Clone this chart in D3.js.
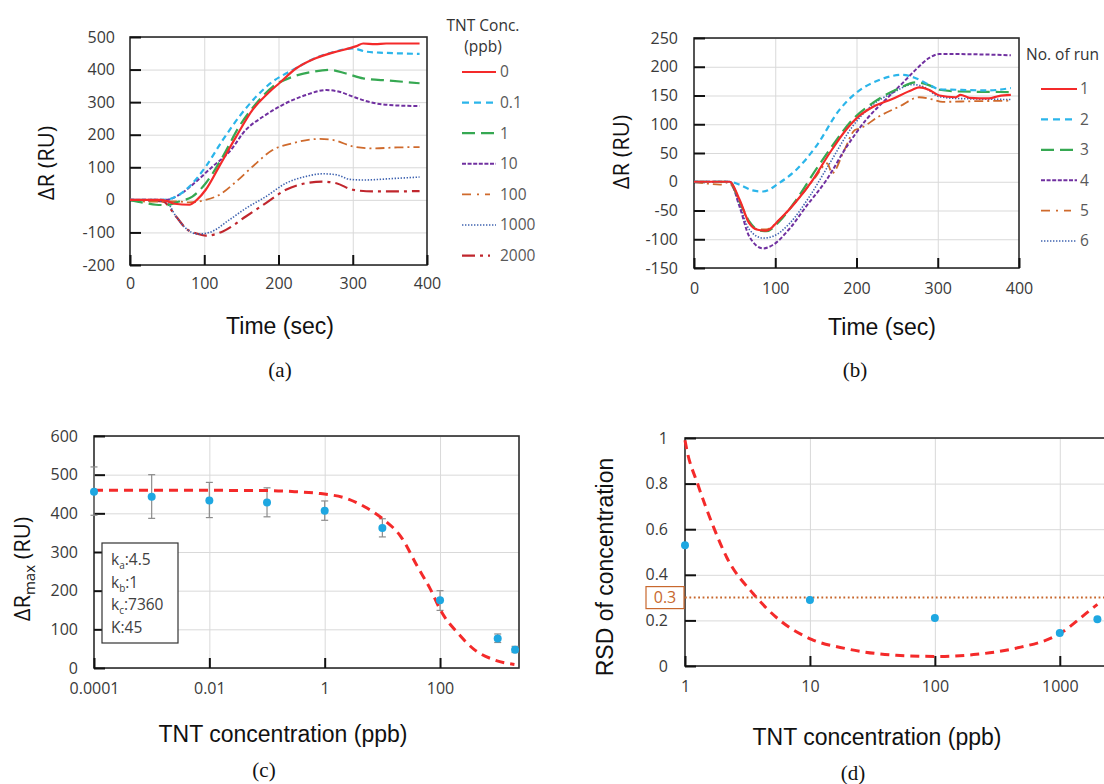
<!DOCTYPE html>
<html>
<head>
<meta charset="utf-8">
<script src="https://cdn.jsdelivr.net/npm/d3@7"></script>
<style>
  body { margin: 0; background: #fff; }
  svg { display: block; }
  .tick text { font-family: "Open Sans", sans-serif; font-size: 16px; fill: #3a3a3a; }
  .title { font-family: "Liberation Sans", Arial, sans-serif; font-size: 23px; fill: #111; }
  .ytitle { font-family: "Open Sans", sans-serif; font-size: 22px; fill: #111; }
  .plabel { font-family: "Liberation Serif", "Times New Roman", serif; font-size: 21px; fill: #111; }
  .leg { font-family: "Open Sans", sans-serif; font-size: 15.5px; fill: #595959; }
</style>
</head>
<body>
<main></main>
<script>
(function(){

  // PANEL (a) - TNT concentration series, [time, dR]
  const concLabels = ["0", "0.1", "1", "10", "100", "1000", "2000"];
  const conc0 = [[0,0],[40,0],[50,-4],[60,-12],[80,-15],[90,0],[102,31],[120,102],[143,194],[165,276],[188,332],[201,358],[224,404],[246,431],[273,452],[305,472],[314,480],[330,478],[345,480],[390,480]];
  const conc01 = [[0,0],[45,0],[62,10],[80,41],[102,102],[125,184],[147,255],[170,317],[192,363],[210,388],[224,405],[246,432],[273,453],[300,465],[318,455],[336,452],[360,450],[390,448]];
  const conc1 = [[0,0],[21,-10],[35,-15],[50,-16],[66,-5],[84,10],[102,51],[125,133],[147,225],[170,296],[192,347],[219,378],[246,393],[269,399],[291,388],[314,373],[350,366],[390,358]];
  const conc10 = [[0,0],[48,0],[66,15],[84,46],[111,102],[134,148],[156,215],[179,255],[201,286],[237,322],[264,337],[282,332],[300,317],[327,298],[358,290],[390,288]];
  const conc100 = [[0,0],[21,-5],[66,-5],[80,-8],[102,0],[120,15],[143,56],[165,102],[192,153],[219,174],[255,187],[273,184],[300,164],[327,158],[360,161],[390,162]];
  const conc1000 = [[0,0],[48,-5],[62,-51],[75,-87],[91,-105],[107,-100],[134,-61],[156,-26],[183,10],[210,51],[237,72],[260,80],[278,77],[296,63],[314,61],[358,66],[390,70]];
  const conc2000 = [[0,0],[44,-5],[62,-51],[75,-87],[92,-105],[102,-110],[125,-97],[156,-51],[183,-10],[210,31],[237,51],[260,56],[278,51],[300,31],[327,26],[360,26],[390,27]];
  const concSeries = [conc0, conc01, conc1, conc10, conc100, conc1000, conc2000];

  // PANEL (b) - repeated runs, [time, dR]
  const runLabels = ["1", "2", "3", "4", "5", "6"];
  const run1 = [[0,0],[44,0],[56,-31],[68,-72],[77,-83],[89,-85],[105,-66],[126,-34],[146,3],[167,50],[187,90],[203,114],[220,130],[244,144],[269,160],[277,164],[289,160],[302,150],[322,147],[328,151],[339,146],[363,145],[375,149],[390,151]];
  const run2 = [[0,0],[44,0],[56,-5],[72,-15],[85,-17],[105,-2],[126,21],[150,61],[179,125],[199,154],[228,177],[257,186],[273,180],[289,169],[302,161],[322,160],[363,159],[390,163]];
  const run3 = [[0,0],[44,0],[56,-34],[68,-69],[81,-85],[89,-86],[105,-69],[126,-31],[150,21],[171,64],[195,108],[220,137],[253,163],[273,173],[289,168],[302,160],[326,157],[390,156]];
  const run4 = [[0,0],[44,0],[56,-43],[68,-95],[85,-116],[97,-110],[118,-81],[138,-43],[163,3],[187,59],[212,108],[236,143],[257,172],[273,195],[289,215],[302,222],[322,222],[390,220]];
  const run5 = [[0,0],[15,-3],[32,-5],[42,-1],[56,-34],[68,-72],[81,-83],[89,-83],[105,-66],[126,-34],[150,9],[164,32],[170,15],[185,55],[198,90],[203,92],[228,114],[253,131],[277,147],[294,143],[306,139],[343,140],[390,141]];
  const run6 = [[0,0],[44,0],[56,-40],[68,-83],[85,-98],[97,-95],[118,-72],[142,-26],[167,32],[195,96],[220,134],[244,154],[269,169],[281,166],[302,148],[322,145],[390,143]];
  const runSeries = [run1, run2, run3, run4, run5, run6];

  // PANEL (c) - dR max vs concentration
  const cConc = [0.0001, 0.001, 0.01, 0.1, 1, 10, 100, 1000, 2000];
  const cMean = [456, 443, 433, 428, 407, 362, 175, 76, 47];
  const cLow = [395, 387, 389, 391, 382, 339, 149, 66, 40];
  const cHigh = [520, 500, 480, 466, 432, 386, 200, 88, 56];
  const cFit = [[0.0001,460],[0.1,459],[0.3,456],[0.85,451],[2.45,438],[5.5,413],[10.7,383],[20.9,340],[40.7,262],[69,202],[105,146],[204,90],[398,47],[871,21],[1950,9]];
  const cParams = [["k","a",":4.5"],["k","b",":1"],["k","c",":7360"],["K","",":45"]];

  // PANEL (d) - RSD vs concentration
  const dConc = [1, 10, 100, 1000, 2000];
  const dRsd = [0.53, 0.29, 0.21, 0.145, 0.205];
  const dFit = [[1,0.99],[1.03,0.953],[1.26,0.8],[1.69,0.61],[2.15,0.478],[3.52,0.317],[5.75,0.2],[10.3,0.117],[19.5,0.076],[49,0.047],[102,0.042],[204,0.05],[427,0.076],[1000,0.142],[1740,0.244],[2000,0.27]];
  const dLimit = 0.3;

  // line styles shared by (a) and (b)
  const styles = [
    {c: "#f42a2a", d: null, w: 2.2, ld: null},
    {c: "#2bb5ea", d: "6,4", w: 2.2, ld: "7,5"},
    {c: "#36a852", d: "13,6", w: 2.2, ld: "13,6"},
    {c: "#7030a0", d: "4,2", w: 2, ld: "4,1.6"},
    {c: "#cf6a2c", d: "9,4,2,4", w: 1.8, ld: "9,6,2,6"},
    {c: "#3f63b0", d: "1.4,1.6", w: 1.6, ld: "1.4,1.6"},
    {c: "#c0262d", d: "13,5,3,5", w: 2.2, ld: "13,5,3,5"}
  ];

  const svg = d3.select("main")
    .append("svg")
    .attr("width", 1104)
    .attr("height", 784);

  const intFmt = d => String(d);  // plain hyphen minus like the original

  // draws grid, box, ticks and tick labels for one panel
  function frame(x, y, xTicks, yTicks, xFmt, yFmt, xPad, yPad, gridX){
    const [x0, x1] = x.range(), [y0, y1] = y.range();
    const g = svg.append("g");
    g.append("g").attr("transform", `translate(${x0},0)`)
      .call(d3.axisLeft(y).tickValues(yTicks).tickSize(-(Math.min(x1, 1104) - x0)).tickFormat(""))
      .call(a => a.select(".domain").remove())
      .selectAll("line").attr("stroke", "#d9d9d9");
    g.append("g").attr("transform", `translate(0,${y0})`)
      .call(d3.axisBottom(x).tickValues(gridX).tickSize(-(y0 - y1)).tickFormat(""))
      .call(a => a.select(".domain").remove())
      .selectAll("line").attr("stroke", "#d9d9d9");
    g.append("rect")
      .attr("x", x0).attr("y", y1)
      .attr("width", x1 - x0).attr("height", y0 - y1)
      .attr("fill", "none").attr("stroke", "#2b2b2b").attr("stroke-width", 1.6);
    g.append("g").attr("transform", `translate(${x0},0)`)
      .call(d3.axisLeft(y).tickValues(yTicks).tickSize(-11).tickPadding(yPad).tickFormat(yFmt))
      .call(a => a.select(".domain").remove())
      .selectAll("line").attr("stroke", "#111").attr("stroke-width", 2);
    g.append("g").attr("transform", `translate(0,${y0})`)
      .call(d3.axisBottom(x).tickValues(xTicks).tickSize(-10).tickPadding(xPad).tickFormat(xFmt))
      .call(a => a.select(".domain").remove())
      .selectAll("line").attr("stroke", "#111").attr("stroke-width", 2);
    return g;
  }

  function drawLines(series, x, y){
    const line = d3.line().x(d => x(d[0])).y(d => y(d[1])).curve(d3.curveMonotoneX);
    // draw in reverse so the first series sits on top
    series.map((s, i) => [s, i]).reverse().forEach(([s, i]) => {
      svg.append("path")
        .attr("d", line(s))
        .attr("fill", "none")
        .attr("stroke", styles[i].c)
        .attr("stroke-width", styles[i].w)
        .attr("stroke-dasharray", styles[i].d);
    });
  }

  function legend(labels, lx0, lx1, tx, yStart, step){
    labels.forEach((l, i) => {
      const yy = yStart + i * step;
      svg.append("line")
        .attr("x1", lx0).attr("x2", styles[i].d && styles[i].d.split(",").length > 2 ? lx1 - 6 : lx1)
        .attr("y1", yy).attr("y2", yy)
        .attr("stroke", styles[i].c)
        .attr("stroke-width", styles[i].w)
        .attr("stroke-dasharray", styles[i].ld);
      svg.append("text").attr("class", "leg")
        .attr("x", tx).attr("y", yy).attr("dy", "0.35em")
        .text(l);
    });
  }

  function ytitle(txt, cx, cy){
    return svg.append("text").attr("class", "ytitle")
      .attr("transform", `translate(${cx},${cy}) rotate(-90)`)
      .attr("text-anchor", "middle").attr("dy", "0.35em")
      .text(txt);
  }

  function title(txt, cx, by, cls){
    svg.append("text").attr("class", cls || "title")
      .attr("x", cx).attr("y", by).attr("text-anchor", "middle")
      .text(txt);
  }

  // ---------- (a) ----------
  const xA = d3.scaleLinear().domain([0, 400]).range([130, 427]);
  const yA = d3.scaleLinear().domain([-200, 500]).range([265, 37]);
  frame(xA, yA, d3.range(0, 401, 100), d3.range(-200, 501, 100), intFmt, intFmt, 13, 15, [100, 200, 300]);
  drawLines(concSeries, xA, yA);
  svg.append("text").attr("class", "leg").attr("x", 483).attr("y", 31).attr("text-anchor", "middle").style("fill", "#333").text("TNT Conc.");
  svg.append("text").attr("class", "leg").attr("x", 483).attr("y", 52).attr("text-anchor", "middle").style("fill", "#333").text("(ppb)");
  legend(concLabels, 462, 496, 500, 72, 30.6);
  title("Time (sec)", 280, 334);
  title("(a)", 280, 377, "plabel");
  ytitle("ΔR (RU)", 46, 163);

  // ---------- (b) ----------
  const xB = d3.scaleLinear().domain([0, 400]).range([694, 1019]);
  const yB = d3.scaleLinear().domain([-150, 250]).range([268, 38]);
  frame(xB, yB, d3.range(0, 401, 100), d3.range(-150, 251, 50), intFmt, intFmt, 15, 16, [100, 200, 300]);
  drawLines(runSeries, xB, yB);
  svg.append("text").attr("class", "leg").attr("x", 1026).attr("y", 60).style("fill", "#333").text("No. of run");
  legend(runLabels, 1041, 1077, 1080, 89, 30.4);
  title("Time (sec)", 882, 335);
  title("(b)", 855, 377, "plabel");
  ytitle("ΔR (RU)", 621, 152);

  // ---------- (c) ----------
  const xC = d3.scaleLog().domain([0.0001, 2340]).range([94, 519]);
  const yC = d3.scaleLinear().domain([0, 600]).range([668, 436]);
  const logFmt = d => String(d);
  frame(xC, yC, [0.0001, 0.01, 1, 100], d3.range(0, 601, 100), logFmt, intFmt, 15, 16, [0.01, 1, 100]);
  const fitLine = (x, y) => d3.line().x(d => x(d[0])).y(d => y(d[1])).curve(d3.curveMonotoneX);
  // error bars
  cConc.forEach((c, i) => {
    const px = xC(c);
    svg.append("line").attr("x1", px).attr("x2", px).attr("y1", yC(cLow[i])).attr("y2", yC(cHigh[i])).attr("stroke", "#8c8c8c").attr("stroke-width", 1.2);
    [cLow[i], cHigh[i]].forEach(v => svg.append("line").attr("x1", px - 3.5).attr("x2", px + 3.5).attr("y1", yC(v)).attr("y2", yC(v)).attr("stroke", "#8c8c8c").attr("stroke-width", 1.2));
  });
  svg.append("path").attr("d", fitLine(xC, yC)(cFit)).attr("fill", "none")
    .attr("stroke", "#f42a2a").attr("stroke-width", 3).attr("stroke-dasharray", "9,6");
  svg.selectAll(".cpt").data(cConc).join("circle").attr("class", "cpt")
    .attr("cx", d => xC(d)).attr("cy", (d, i) => yC(cMean[i])).attr("r", 4).attr("fill", "#1ea7e1");
  svg.append("rect").attr("x", 102).attr("y", 543).attr("width", 76).attr("height", 100)
    .attr("fill", "#fff").attr("stroke", "#333").attr("stroke-width", 1.2);
  cParams.forEach((p, i) => {
    const t = svg.append("text").attr("class", "leg").style("fill", "#404040").style("font-size", "15.5px")
      .attr("x", 111).attr("y", 565 + i * 22.5);
    t.append("tspan").text(p[0]);
    if (p[1]) t.append("tspan").attr("font-size", 10).attr("dy", 4).text(p[1]);
    t.append("tspan").attr("dy", p[1] ? -4 : 0).text(p[2]);
  });
  title("TNT concentration (ppb)", 283, 742);
  title("(c)", 264, 777, "plabel");
  const yt = ytitle("", 22, 569);
  yt.append("tspan").text("ΔR");
  yt.append("tspan").attr("font-size", 15).attr("dy", 5).text("max");
  yt.append("tspan").attr("dy", -5).text(" (RU)");

  // ---------- (d) ----------
  const xD = d3.scaleLog().domain([1, Math.pow(10, 3.45)]).range([685, 1116]);
  const yD = d3.scaleLinear().domain([0, 1]).range([666, 438]);
  frame(xD, yD, [1, 10, 100, 1000], d3.range(0, 1.01, 0.2), intFmt, d => d === 0 ? "0" : d === 1 ? "1" : d3.format(".1f")(d), 15, 17, [10, 100, 1000]);
  svg.append("line").attr("x1", xD(1)).attr("x2", 1104).attr("y1", yD(dLimit)).attr("y2", yD(dLimit))
    .attr("stroke", "#c8682e").attr("stroke-width", 2).attr("stroke-dasharray", "1.8,2.6");
  svg.append("path").attr("d", fitLine(xD, yD)(dFit)).attr("fill", "none")
    .attr("stroke", "#f42a2a").attr("stroke-width", 3).attr("stroke-dasharray", "9,6");
  svg.selectAll(".dpt").data(dConc).join("circle").attr("class", "dpt")
    .attr("cx", d => xD(d)).attr("cy", (d, i) => yD(dRsd[i])).attr("r", 4).attr("fill", "#1ea7e1");
  svg.append("rect").attr("x", 646).attr("y", yD(dLimit) - 11).attr("width", 38).attr("height", 22)
    .attr("fill", "#fff").attr("stroke", "#c8682e").attr("stroke-width", 1.2);
  svg.append("text").attr("class", "leg").style("fill", "#c8682e").style("font-size", "16px")
    .attr("x", 665).attr("y", yD(dLimit)).attr("dy", "0.36em").attr("text-anchor", "middle").text(dLimit);
  title("TNT concentration (ppb)", 877, 745);
  title("(d)", 853, 780, "plabel");
  svg.append("text").attr("class", "title")
    .attr("transform", "translate(605,567) rotate(-90)")
    .attr("text-anchor", "middle").attr("dy", "0.35em")
    .text("RSD of concentration");

})()
</script>
</body>
</html>
